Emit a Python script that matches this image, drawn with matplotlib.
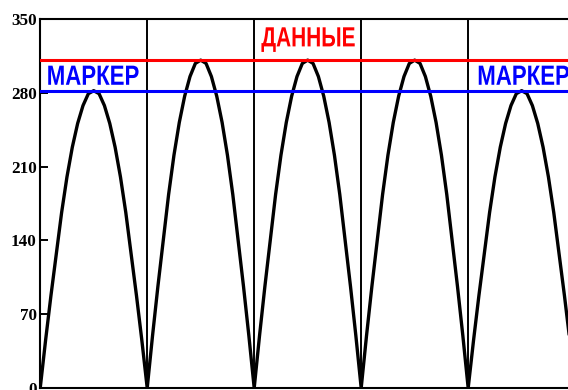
import numpy as np
import matplotlib
matplotlib.use("Agg")
import matplotlib.pyplot as plt
from matplotlib.patheffects import AbstractPathEffect
from matplotlib.transforms import Affine2D

# peak heights of the rectified half-waves, left to right
arch_peaks = [282, 311, 311, 311, 282]
# shape of one half-wave (fraction of period -> fraction of peak)
arch_frac = [0.0, 0.05, 0.10, 0.15, 0.20, 0.25, 0.30, 0.35, 0.40, 0.45, 0.50,
             0.55, 0.60, 0.65, 0.70, 0.75, 0.80, 0.85, 0.90, 0.95, 1.0]
arch_shape = [0.0, 0.16, 0.31, 0.45, 0.59, 0.71, 0.81, 0.89, 0.95, 0.99, 1.0,
              0.99, 0.95, 0.89, 0.81, 0.71, 0.59, 0.45, 0.31, 0.16, 0.0]

data_level = 311     # red line
marker_level = 282   # blue line
y_ticks = [0, 70, 140, 210, 280, 350]
grid_x = [1, 2, 3, 4]


class Narrow(AbstractPathEffect):
    """squeeze glyphs horizontally (no narrow font installed)"""
    def __init__(self, sx):
        super().__init__()
        self.sx = sx

    def draw_path(self, renderer, gc, tpath, affine, rgbFace=None):
        renderer.draw_path(gc, tpath, Affine2D().scale(self.sx, 1) + affine, rgbFace)


fig = plt.figure(figsize=(5.68, 3.90), dpi=100)
ax = fig.add_axes([0.0708, 0.0051, 0.9292, 0.9462])

xs, ys = [], []
for k, peak in enumerate(arch_peaks):
    xs.append(k + np.array(arch_frac))
    ys.append(peak * np.array(arch_shape))
ax.plot(np.concatenate(xs), np.concatenate(ys), color="black", lw=2.4,
        zorder=2, solid_joinstyle="round")

ax.axhline(data_level, color="#ff0000", lw=2.2, zorder=3)
ax.axhline(marker_level, color="#0000ff", lw=2.2, zorder=3)

for gx in grid_x:
    ax.axvline(gx, color="black", lw=1.4, zorder=1)

ax.set_xlim(0, 4.933)
ax.set_ylim(0, 350)
ax.set_xticks([])
ax.set_yticks(y_ticks)
ax.set_yticklabels([str(t) for t in y_ticks], family="Liberation Serif",
                   fontweight="bold", fontsize=12.3)
ax.tick_params(axis="y", direction="in", length=5.8, width=1.4, pad=2.5)

for side in ["left", "top", "bottom"]:
    ax.spines[side].set_linewidth(1.5)
ax.spines["right"].set_visible(False)

label_kw = dict(fontsize=20, fontweight="bold", family=["Liberation Sans", "DejaVu Sans"],
                ha="left", va="baseline", zorder=4)
ax.text(2.066, 324, "ДАННЫЕ", color="#ff0000", path_effects=[Narrow(0.75)], **label_kw)
ax.text(0.061, 287.6, "МАРКЕР", color="#0000ff", path_effects=[Narrow(0.80)], **label_kw)
ax.text(4.085, 287.6, "МАРКЕР", color="#0000ff", clip_on=False,
        path_effects=[Narrow(0.80)], **label_kw)

fig.savefig("out.png", dpi=100)
